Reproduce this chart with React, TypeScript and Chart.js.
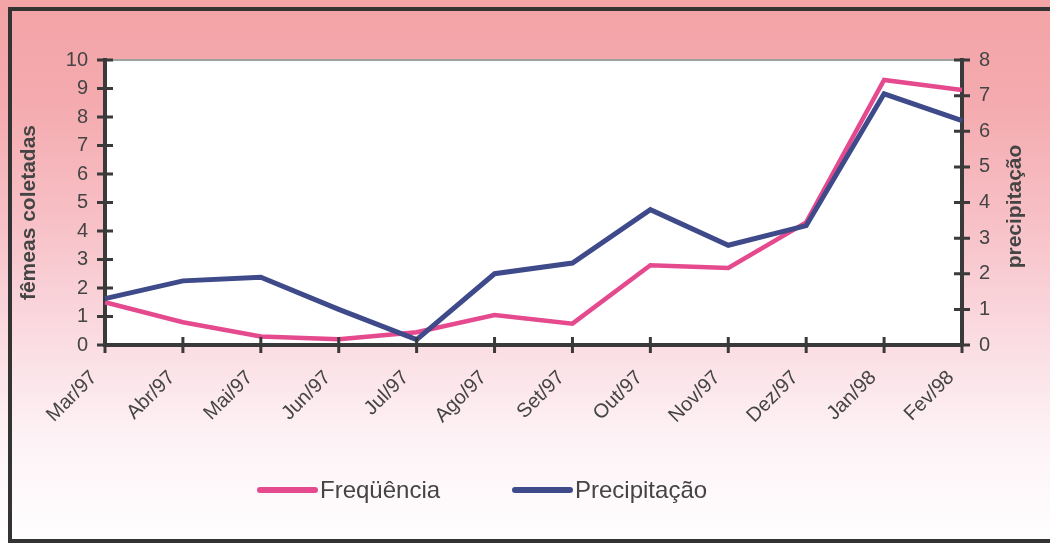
import { useEffect, useRef } from "react";
import { Chart, registerables } from "chart.js";

Chart.register(...registerables);

// Monthly collection period, Mar/1997 – Fev/1998
const months = [
  "Mar/97", "Abr/97", "Mai/97", "Jun/97", "Jul/97", "Ago/97",
  "Set/97", "Out/97", "Nov/97", "Dez/97", "Jan/98", "Fev/98",
];

// Females collected per month (left axis)
const frequencia = [1.5, 0.8, 0.3, 0.2, 0.45, 1.05, 0.75, 2.8, 2.7, 4.3, 9.3, 8.95];

// Rainfall per month (right axis)
const precipitacao = [1.3, 1.8, 1.9, 1.0, 0.15, 2.0, 2.3, 3.8, 2.8, 3.35, 7.05, 6.3];

const leftMax = 10;
const rightMax = 8;
const leftTitle = "fêmeas coletadas";
const rightTitle = "precipitação";
const seriesLabels = ["Freqüência", "Precipitação"];

const PINK = "#E64A8E";
const NAVY = "#3E4A8A";
const AXIS = "#3a3a3a";
const TEXT = "#444444";
const FONT = "'Liberation Sans', Arial, Helvetica, sans-serif";

const decorations = {
  id: "decorations",
  beforeDraw(chart: any) {
    const { ctx, width, height, chartArea } = chart;
    ctx.save();
    const g = ctx.createLinearGradient(0, 0, 0, height);
    g.addColorStop(0, "#F3A4A6");
    g.addColorStop(0.18, "#F4AAAE");
    g.addColorStop(0.42, "#F7C2C8");
    g.addColorStop(0.62, "#FADCE2");
    g.addColorStop(0.8, "#FDF2F5");
    g.addColorStop(1, "#FFFFFF");
    ctx.fillStyle = g;
    ctx.fillRect(0, 0, width, height);

    // plot area
    ctx.fillStyle = "#FFFFFF";
    ctx.fillRect(
      chartArea.left,
      chartArea.top,
      chartArea.right - chartArea.left,
      chartArea.bottom - chartArea.top
    );
    ctx.strokeStyle = "#A0A0A0";
    ctx.lineWidth = 2;
    ctx.beginPath();
    ctx.moveTo(chartArea.left, chartArea.top);
    ctx.lineTo(chartArea.right, chartArea.top);
    ctx.stroke();

    // outer frame
    ctx.strokeStyle = "#333333";
    ctx.lineWidth = 4;
    ctx.beginPath();
    ctx.moveTo(width, 9);
    ctx.lineTo(10, 9);
    ctx.lineTo(10, 541);
    ctx.lineTo(width, 541);
    ctx.stroke();
    ctx.restore();
  },
  afterDraw(chart: any) {
    const { ctx, chartArea } = chart;
    const sx = chart.scales.x;
    const sy = chart.scales.y;
    const sy1 = chart.scales.y1;
    ctx.save();
    ctx.strokeStyle = AXIS;
    ctx.lineWidth = 3;
    ctx.beginPath();
    // cross tick marks on every axis
    sy.ticks.forEach((_t: any, i: number) => {
      const p = sy.getPixelForTick(i);
      ctx.moveTo(chartArea.left - 8, p);
      ctx.lineTo(chartArea.left + 8, p);
    });
    sy1.ticks.forEach((_t: any, i: number) => {
      const p = sy1.getPixelForTick(i);
      ctx.moveTo(chartArea.right - 8, p);
      ctx.lineTo(chartArea.right + 8, p);
    });
    sx.ticks.forEach((_t: any, i: number) => {
      const p = sx.getPixelForTick(i);
      ctx.moveTo(p, chartArea.bottom - 8);
      ctx.lineTo(p, chartArea.bottom + 8);
    });
    ctx.stroke();

    // axis titles
    const midY = (chartArea.top + chartArea.bottom) / 2;
    ctx.fillStyle = TEXT;
    ctx.font = `bold 21px ${FONT}`;
    ctx.textAlign = "center";
    ctx.textBaseline = "middle";
    ctx.save();
    ctx.translate(29, midY + 10);
    ctx.rotate(-Math.PI / 2);
    ctx.fillText(leftTitle, 0, 0);
    ctx.restore();
    ctx.save();
    ctx.translate(1015, midY + 4);
    ctx.rotate(-Math.PI / 2);
    ctx.fillText(rightTitle, 0, 0);
    ctx.restore();

    // legend
    const items = [
      { x: 260, color: chart.data.datasets[0].borderColor, label: chart.data.datasets[0].label },
      { x: 515, color: chart.data.datasets[1].borderColor, label: chart.data.datasets[1].label },
    ];
    const ly = 490;
    ctx.lineCap = "round";
    ctx.lineWidth = 6;
    ctx.font = `24px ${FONT}`;
    ctx.textAlign = "left";
    ctx.textBaseline = "middle";
    items.forEach((it) => {
      ctx.strokeStyle = it.color;
      ctx.beginPath();
      ctx.moveTo(it.x, ly);
      ctx.lineTo(it.x + 55, ly);
      ctx.stroke();
      ctx.fillStyle = TEXT;
      ctx.fillText(it.label, it.x + 60, ly + 1);
    });
    ctx.restore();
  },
};

export default function App() {
  const canvasRef = useRef<HTMLCanvasElement | null>(null);

  useEffect(() => {
    const canvas = canvasRef.current;
    if (!canvas) return;
    const chart = new Chart(canvas, {
      type: "line",
      data: {
        labels: months,
        datasets: [
          {
            label: seriesLabels[0],
            data: frequencia,
            yAxisID: "y",
            borderColor: PINK,
            backgroundColor: PINK,
            borderWidth: 4.5,
            pointRadius: 0,
            tension: 0,
            order: 1,
          },
          {
            label: seriesLabels[1],
            data: precipitacao,
            yAxisID: "y1",
            borderColor: NAVY,
            backgroundColor: NAVY,
            borderWidth: 5,
            pointRadius: 0,
            tension: 0,
            order: 0,
          },
        ],
      },
      options: {
        responsive: false,
        animation: false,
        devicePixelRatio: 1,
        layout: { padding: { top: 60, left: 0, right: 0, bottom: 0 } },
        plugins: {
          legend: { display: false },
          tooltip: { enabled: false },
        },
        scales: {
          x: {
            type: "category",
            offset: false,
            grid: { display: false },
            border: { display: true, color: AXIS, width: 4 },
            ticks: {
              autoSkip: false,
              maxRotation: 45,
              minRotation: 45,
              padding: 13,
              labelOffset: -11,
              color: TEXT,
              font: { family: FONT, size: 20 },
            },
            afterFit(scale: any) {
              scale.height = 201;
            },
          },
          y: {
            position: "left",
            min: 0,
            max: leftMax,
            grid: { display: false },
            border: { display: true, color: AXIS, width: 4 },
            ticks: {
              stepSize: 1,
              padding: 9,
              color: TEXT,
              font: { family: FONT, size: 20 },
            },
            afterFit(scale: any) {
              scale.width = 105;
            },
          },
          y1: {
            position: "right",
            min: 0,
            max: rightMax,
            grid: { display: false },
            border: { display: true, color: AXIS, width: 4 },
            ticks: {
              stepSize: 1,
              padding: 9,
              color: TEXT,
              font: { family: FONT, size: 20 },
            },
            afterFit(scale: any) {
              scale.width = 88;
            },
          },
        },
      },
      plugins: [decorations],
    });
    return () => chart.destroy();
  }, []);

  return (
    <div style={{ position: "fixed", left: 0, top: 0, width: 1050, height: 546 }}>
      <canvas ref={canvasRef} width={1050} height={546} />
    </div>
  );
}
